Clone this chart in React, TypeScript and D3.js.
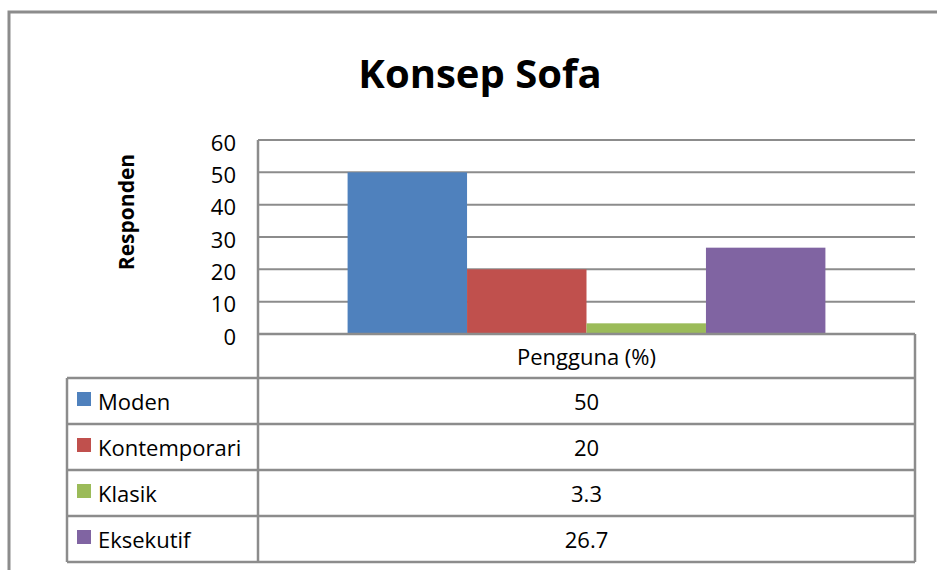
import React from 'react';
import * as d3 from 'd3';

const title = 'Konsep Sofa';
const yTitle = 'Responden';
const category = 'Pengguna (%)';
const seriesNames = ['Moden', 'Kontemporari', 'Klasik', 'Eksekutif'];
const seriesValues = [50, 20, 3.3, 26.7];
const seriesLabels = ['50', '20', '3.3', '26.7'];
const seriesColors = ['#4F81BD', '#C0504D', '#9BBB59', '#8064A2'];
const yTicks = [0, 10, 20, 30, 40, 50, 60];

const width = 937;
const height = 570;
const font = '"Open Sans", sans-serif';
const gridColor = '#8c8c8c';

const App: React.FC = () => {
    // plot area
    const left = 258;
    const right = 915;
    const top = 140;
    const bottom = 334;

    const yScale = d3.scaleLinear().domain([0, 60]).range([bottom, top]);
    const xOuter = d3.scaleBand<string>().domain([category]).range([left, right]);
    const xInner = d3.scaleBand<string>()
        .domain(seriesNames)
        .range([0, xOuter.bandwidth()])
        .paddingInner(0)
        .paddingOuter(0.75);

    // data table below the plot
    const tableLeft = 67;
    const headerBottom = 378;
    const rowH = 46;
    const tableBottom = headerBottom + rowH * seriesNames.length;
    const colMid = (left + right) / 2;

    return (
        <svg width={width} height={height} style={{ position: 'absolute', left: 0, top: 0, background: 'white' }}>
            {/* outer chart frame */}
            <rect x={9} y={12} width={1000} height={700} fill="white" stroke={gridColor} strokeWidth={3} />

            <text x={480} y={88} textAnchor="middle" fontFamily={font} fontWeight="bold" fontSize={40}>{title}</text>

            <text transform={`translate(134,212) rotate(-90)`} textAnchor="middle"
                fontFamily={font} fontWeight="bold" fontSize={21}>{yTitle}</text>

            {/* gridlines */}
            {yTicks.map(t => (
                <g key={t}>
                    <line x1={left} x2={right} y1={yScale(t)} y2={yScale(t)} stroke={gridColor} strokeWidth={2} />
                    <text x={236} y={yScale(t) + 3} dy="0.35em" textAnchor="end" fontFamily={font} fontSize={22}>{t}</text>
                </g>
            ))}

            {/* bars */}
            {seriesNames.map((s, i) => (
                <rect key={s}
                    x={(xOuter(category) || 0) + (xInner(s) || 0)}
                    y={yScale(seriesValues[i])}
                    width={xInner.bandwidth()}
                    height={yScale(0) - yScale(seriesValues[i])}
                    fill={seriesColors[i]} />
            ))}

            {/* table */}
            <g stroke={gridColor} strokeWidth={2.5} fill="none">
                <line x1={left} x2={left} y1={top} y2={tableBottom} />
                <line x1={right} x2={right} y1={bottom} y2={tableBottom} />
                <line x1={left} x2={right} y1={bottom} y2={bottom} />
                <line x1={tableLeft} x2={tableLeft} y1={headerBottom} y2={tableBottom} />
                {d3.range(seriesNames.length + 1).map(i => (
                    <line key={i} x1={tableLeft} x2={right} y1={headerBottom + i * rowH} y2={headerBottom + i * rowH} />
                ))}
            </g>
            <text x={colMid} y={(bottom + headerBottom) / 2 + 1} dy="0.35em" textAnchor="middle" fontFamily={font} fontSize={22}>{category}</text>
            {seriesNames.map((s, i) => {
                const cy = headerBottom + i * rowH + rowH / 2;
                return (
                    <g key={s}>
                        <rect x={77} y={cy - 9} width={14} height={14} fill={seriesColors[i]} />
                        <text x={98} y={cy + 1} dy="0.35em" fontFamily={font} fontSize={22}>{s}</text>
                        <text x={colMid} y={cy + 1} dy="0.35em" textAnchor="middle" fontFamily={font} fontSize={22}>{seriesLabels[i]}</text>
                    </g>
                );
            })}
        </svg>
    );
};

export default App;
